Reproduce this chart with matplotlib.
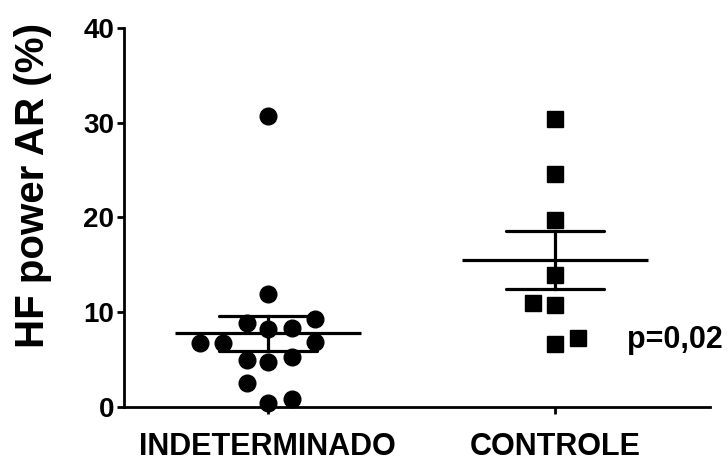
import numpy as np
import matplotlib
matplotlib.use("Agg")
import matplotlib.pyplot as plt

plt.rcParams['font.family'] = ['Liberation Sans', 'DejaVu Sans']
plt.rcParams['font.weight'] = 'bold'

# data
groups = ['INDETERMINADO', 'CONTROLE']
indet = [30.7, 11.9, 9.3, 8.9, 8.2, 8.3, 6.75, 6.7, 6.9, 5.0, 4.7, 5.3, 2.5, 0.4, 0.8]
controle = [30.4, 24.6, 19.7, 13.9, 11.0, 10.7, 6.6, 7.3]
# horizontal scatter of the points (category units)
indet_dx = [0, 0, 0.164, -0.073, 0, 0.084, -0.237, -0.157, 0.164, -0.073, 0, 0.084, -0.073, 0, 0.084]
controle_dx = [0, 0, 0, 0, -0.077, 0, 0, 0.08]
yticks = [0, 10, 20, 30, 40]
p_text = 'p=0,02'

fig = plt.figure(figsize=(7.28, 4.65), dpi=100)
ax = fig.add_axes([0.170, 0.125, 0.805, 0.815])

series = [(indet, indet_dx, 'o', 12), (controle, controle_dx, 's', 11)]
for i, (vals, dx, mk, ms) in enumerate(series):
    vals = np.array(vals)
    xs = i + np.array(dx)
    ax.plot(xs, vals, linestyle='none', marker=mk, markersize=ms,
            color='black', clip_on=False, zorder=3)
    m = vals.mean()
    sem = vals.std(ddof=1) / np.sqrt(len(vals))
    ax.plot([i - 0.325, i + 0.325], [m, m], color='black', lw=2.3,
            solid_capstyle='butt', zorder=4)
    ax.plot([i, i], [m - sem, m + sem], color='black', lw=2.3, zorder=4)
    for y in (m - sem, m + sem):
        ax.plot([i - 0.17, i + 0.17], [y, y], color='black', lw=2.3,
                solid_capstyle='round', zorder=4)

ax.set_xlim(-0.502, 1.54)
ax.set_ylim(0, 40)
ax.set_yticks(yticks)
ax.set_xticks([0, 1])
ax.set_xticklabels(groups, fontsize=22, fontweight='bold')
ax.tick_params(axis='y', labelsize=20, width=2, length=5, pad=2)
ax.tick_params(axis='x', width=2, length=5, pad=13)
for lab in ax.get_yticklabels():
    lab.set_fontweight('bold')

for s in ['top', 'right']:
    ax.spines[s].set_visible(False)
for s in ['left', 'bottom']:
    ax.spines[s].set_linewidth(2)

ax.set_ylabel('HF power AR (%)', fontsize=29, fontweight='bold')
ax.yaxis.set_label_coords(-0.123, 0.583)
ax.text(1.251, 7.1, p_text, fontsize=22, fontweight='bold', ha='left', va='center')

fig.savefig('out.png', dpi=100)
